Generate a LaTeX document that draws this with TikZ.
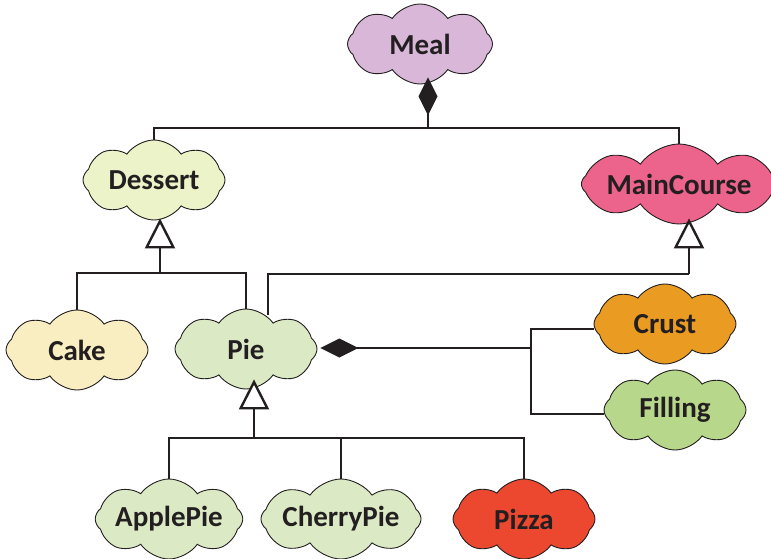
\documentclass[tikz,border=0pt]{standalone}
\usepackage{fontspec}
\setmainfont{Carlito}
\usetikzlibrary{shapes.symbols,arrows.meta}

\definecolor{ink}{HTML}{231F20}
\definecolor{cMeal}{HTML}{D9B7D8}
\definecolor{cDessert}{HTML}{ECF3C8}
\definecolor{cMain}{HTML}{EC638C}
\definecolor{cCake}{HTML}{F9EEC2}
\definecolor{cPie}{HTML}{DBEAC4}
\definecolor{cCrust}{HTML}{EA9C22}
\definecolor{cFilling}{HTML}{B7D88B}
\definecolor{cPizza}{HTML}{EC4830}

\tikzset{
  x=1pt, y=-1pt,
  blob/.style={cloud, cloud puffs=8, cloud puff arc=110, cloud ignores aspect,
    draw=ink, line width=0.9pt, inner sep=0pt,
    minimum width=142pt, minimum height=80pt,
    text=ink, font=\fontsize{29}{34}\selectfont\bfseries},
  wire/.style={draw=ink, line width=1.6pt},
  compose/.style={wire, {Diamond[length=38pt,width=19pt,fill=ink]}-},
  inherit/.style={wire, -{Triangle[open,length=30pt,width=30pt,line width=2.4pt,fill=white]}},
}

\begin{document}
\begin{tikzpicture}
\useasboundingbox (0,0) rectangle (771,559);

% class clouds
\node[blob, fill=cMeal, minimum width=145pt] (meal) at (420,44) {Meal};
\node[blob, fill=cDessert] (dessert) at (154,180) {Dessert};
\node[blob, fill=cMain, minimum width=186pt] (main) at (679,184) {MainCourse};
\node[blob, fill=cCake] (cake) at (77,350) {Cake};
\node[blob, fill=cPie] (pie) at (246,349) {Pie};
\node[blob, fill=cCrust] (crust) at (665,324) {Crust};
\node[blob, fill=cFilling] (filling) at (675,410) {Filling};
\node[blob, fill=cPie] (apple) at (169,519) {ApplePie};
\node[blob, fill=cPie] (cherry) at (341,519) {CherryPie};
\node[blob, fill=cPizza] (pizza) at (524,519) {Pizza};

% junction points of the connector buses
\coordinate (mealbus) at (428,128);
\coordinate (dessertbus) at (160,273);
\coordinate (mainbus) at (689,274);
\coordinate (piebus) at (254,438);
\coordinate (partbus) at (531,348);

% Meal is composed of Dessert and MainCourse
\draw[compose] ([xshift=8pt,yshift=7pt]meal.south) -- (mealbus);
\draw[wire] (dessert.north) |- (mealbus) -| (main.north);

% Cake and Pie specialise Dessert
\draw[inherit] (dessertbus) -- ([xshift=6pt,yshift=2pt]dessert.south);
\draw[wire] (cake.north) |- (dessertbus) -| (pie.north);

% Pie also specialises MainCourse
\draw[wire] ([xshift=22pt,yshift=-6pt]pie.north) |- (mainbus);
\draw[inherit] (mainbus) -- ([xshift=10pt,yshift=6pt]main.south);

% Pie is composed of Crust and Filling
\draw[compose] ([xshift=3pt,yshift=1pt]pie.east) -- (partbus);
\draw[wire] ([yshift=-5pt]crust.west) -| (partbus) |- ([yshift=-4pt]filling.west);

% ApplePie, CherryPie and Pizza specialise Pie
\draw[inherit] (piebus) -- ([xshift=8pt,yshift=10pt]pie.south);
\draw[wire] (apple.north) |- (piebus) -| (pizza.north);
\draw[wire] (cherry.north) -- (cherry.north |- piebus);
\end{tikzpicture}
\end{document}
